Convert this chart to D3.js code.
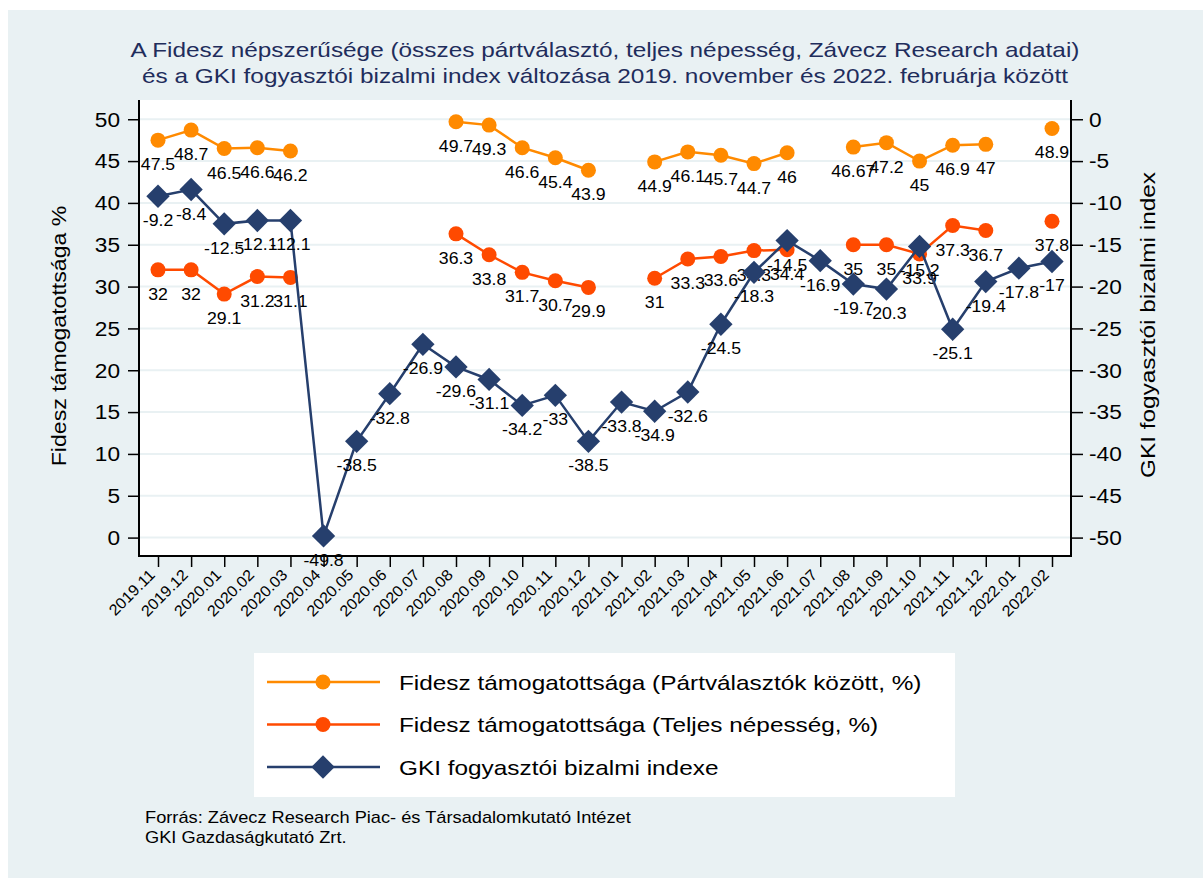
<!DOCTYPE html>
<html>
<head>
<meta charset="utf-8">
<script src="https://cdn.jsdelivr.net/npm/d3@7"></script>
<style>
  body { margin: 0; background: #fff; }
  text { font-family: Arial, "Liberation Sans", Helvetica, sans-serif; }
</style>
</head>
<body>
<div id="chart"></div>
<script>
// Data
const categories = ["2019.11","2019.12","2020.01","2020.02","2020.03","2020.04","2020.05","2020.06",
  "2020.07","2020.08","2020.09","2020.10","2020.11","2020.12","2021.01","2021.02","2021.03",
  "2021.04","2021.05","2021.06","2021.07","2021.08","2021.09","2021.10","2021.11","2021.12",
  "2022.01","2022.02"];

// Fidesz among party choosers (%)
const partvalasztok = [47.5, 48.7, 46.5, 46.6, 46.2, null, null, null, null, 49.7, 49.3, 46.6, 45.4, 43.9,
  null, 44.9, 46.1, 45.7, 44.7, 46, null, 46.67, 47.2, 45, 46.9, 47, null, 48.9];

// Fidesz in total population (%)
const teljesNepesseg = [32, 32, 29.1, 31.2, 31.1, null, null, null, null, 36.3, 33.8, 31.7, 30.7, 29.9,
  null, 31, 33.3, 33.6, 34.3, 34.4, null, 35, 35, 33.9, 37.3, 36.7, null, 37.8];

// GKI consumer confidence index
const gkiIndex = [-9.2, -8.4, -12.5, -12.1, -12.1, -49.8, -38.5, -32.8, -26.9, -29.6, -31.1, -34.2, -33,
  -38.5, -33.8, -34.9, -32.6, -24.5, -18.3, -14.5, -16.9, -19.7, -20.3, -15.2, -25.1, -19.4, -17.8, -17];

const leftTicks = [0, 5, 10, 15, 20, 25, 30, 35, 40, 45, 50];
const rightTicks = [0, -5, -10, -15, -20, -25, -30, -35, -40, -45, -50];

const titleLines = [
  "A Fidesz népszerűsége (összes pártválasztó, teljes népesség, Závecz Research adatai)",
  "és a GKI fogyasztói bizalmi index változása 2019. november és 2022. februárja között"
];
const sourceLines = ["Forrás: Závecz Research Piac- és Társadalomkutató Intézet", "GKI Gazdaságkutató Zrt."];

const seriesNames = [
  "Fidesz támogatottsága (Pártválasztók között, %)",
  "Fidesz támogatottsága (Teljes népesség, %)",
  "GKI fogyasztói bizalmi indexe"
];

// Layout
const width = 1203, height = 878;
const plot = { left: 139, right: 1071, top: 100, bottom: 556 };
const colOrange = "#ff8a00", colRed = "#ff4a00", colNavy = "#263f6d";
const bg = "#e9f1f3";

// the reference text is a bit wider than plain Arial, so stretch it horizontally
const stretch = (x, y, sx) => `translate(${x},${y}) scale(${sx},1)`;

const svg = d3.select("#chart").append("svg")
  .attr("width", width).attr("height", height);

svg.append("rect").attr("x", 8).attr("y", 10)
  .attr("width", width - 8).attr("height", height - 10).attr("fill", bg);

svg.append("rect").attr("x", plot.left).attr("y", plot.top)
  .attr("width", plot.right - plot.left).attr("height", plot.bottom - plot.top)
  .attr("fill", "#fff");

// Scales
const x = d3.scalePoint().domain(categories).range([158, 1052]);
const yL = d3.scaleLinear().domain([-2.2, 52.3]).range([plot.bottom, plot.top]);
const yR = d3.scaleLinear().domain([-52.2, 2.3]).range([plot.bottom, plot.top]);

// Gridlines
svg.append("g").selectAll("line").data(leftTicks).join("line")
  .attr("x1", plot.left).attr("x2", plot.right)
  .attr("y1", d => yL(d)).attr("y2", d => yL(d))
  .attr("stroke", bg).attr("stroke-width", 2);

// Axes
const axisL = svg.append("g").attr("transform", `translate(${plot.left},0)`)
  .call(d3.axisLeft(yL).tickValues(leftTicks).tickSize(11).tickFormat(""));
const axisR = svg.append("g").attr("transform", `translate(${plot.right},0)`)
  .call(d3.axisRight(yR).tickValues(rightTicks).tickSize(12).tickFormat(""));
const axisB = svg.append("g").attr("transform", `translate(0,${plot.bottom})`)
  .call(d3.axisBottom(x).tickSize(11).tickFormat(""));

[axisL, axisR, axisB].forEach(a => {
  a.select(".domain").remove();
  a.selectAll(".tick line").attr("stroke", "#000").attr("stroke-width", 1.5);
});

// tick labels
svg.append("g").selectAll("text").data(leftTicks).join("text")
  .attr("transform", d => stretch(plot.left - 19, yL(d), 1.08))
  .attr("text-anchor", "end").attr("dy", "0.35em").attr("font-size", 21)
  .text(d => d);
svg.append("g").selectAll("text").data(rightTicks).join("text")
  .attr("transform", d => stretch(plot.right + 18, yR(d), 1.08))
  .attr("dy", "0.35em").attr("font-size", 21)
  .text(d => d);

// x tick labels, rotated 45 degrees
svg.append("g").selectAll("text").data(categories).join("text")
  .attr("transform", d => `translate(${x(d) - 6},${plot.bottom + 16}) rotate(-45) scale(1.05,1)`)
  .attr("text-anchor", "end").attr("dy", "0.35em")
  .attr("font-size", 15.5).text(d => d);

// axis lines
svg.append("path")
  .attr("d", `M${plot.left},${plot.top}V${plot.bottom}H${plot.right}V${plot.top}`)
  .attr("fill", "none").attr("stroke", "#000").attr("stroke-width", 2);

// Axis titles
svg.append("text").attr("transform", `translate(66,336) rotate(-90) scale(1.1,1)`)
  .attr("text-anchor", "middle").attr("font-size", 21).text("Fidesz támogatottsága %");
svg.append("text").attr("transform", `translate(1155,325) rotate(-90) scale(1.16,1)`)
  .attr("text-anchor", "middle").attr("font-size", 21).text("GKI fogyasztói bizalmi index");

// Title
svg.append("g").selectAll("text").data(titleLines).join("text")
  .attr("transform", (d, i) => stretch(605, 57 + i * 26, 1.16))
  .attr("text-anchor", "middle").attr("font-size", 21).attr("fill", "#1f2d5c")
  .text(d => d);

// Series
const series = [
  { values: partvalasztok, scale: yL, color: colOrange, shape: "circle" },
  { values: teljesNepesseg, scale: yL, color: colRed, shape: "circle" },
  { values: gkiIndex, scale: yR, color: colNavy, shape: "diamond" }
];

const circleSym = d3.symbol().type(d3.symbolCircle).size(Math.PI * 7.5 * 7.5);
const squareSym = d3.symbol().type(d3.symbolSquare).size(16.5 * 16.5);

function marker(sel, s) {
  if (s.shape === "circle") {
    sel.attr("d", circleSym());
  } else {
    sel.attr("d", squareSym());
  }
}

series.forEach(s => {
  const pts = categories.map((c, i) => ({ c, v: s.values[i] }));
  const line = d3.line()
    .defined(d => d.v != null)
    .x(d => x(d.c)).y(d => s.scale(d.v));
  const g = svg.append("g");
  g.append("path").datum(pts).attr("d", line)
    .attr("fill", "none").attr("stroke", s.color).attr("stroke-width", 2.5);
  const valid = pts.filter(d => d.v != null);
  g.selectAll("path.mk").data(valid).join("path").attr("class", "mk")
    .call(marker, s)
    .attr("transform", d => `translate(${x(d.c)},${s.scale(d.v)})` + (s.shape === "diamond" ? " rotate(45)" : ""))
    .attr("fill", s.color);
  g.selectAll("text").data(valid).join("text")
    .attr("transform", d => stretch(x(d.c), s.scale(d.v) + 30, 1.04))
    .attr("text-anchor", "middle").attr("font-size", 17).attr("fill", "#000")
    .text(d => d.v);
});

// Legend
const legend = svg.append("g");
legend.append("rect").attr("x", 254).attr("y", 653).attr("width", 701).attr("height", 144).attr("fill", "#fff");
series.forEach((s, i) => {
  const ly = 682 + i * 42.5;
  legend.append("line").attr("x1", 267).attr("x2", 380).attr("y1", ly).attr("y2", ly)
    .attr("stroke", s.color).attr("stroke-width", 2.5);
  legend.append("path").call(marker, s)
    .attr("transform", `translate(323,${ly})` + (s.shape === "diamond" ? " rotate(45)" : ""))
    .attr("fill", s.color);
  legend.append("text").attr("transform", stretch(399, ly + 7.5, 1.16))
    .attr("font-size", 21).text(seriesNames[i]);
});

// Source note
svg.append("g").selectAll("text").data(sourceLines).join("text")
  .attr("transform", (d, i) => stretch(145, 823 + i * 20, 1.14))
  .attr("font-size", 16).text(d => d);
</script>
</body>
</html>
